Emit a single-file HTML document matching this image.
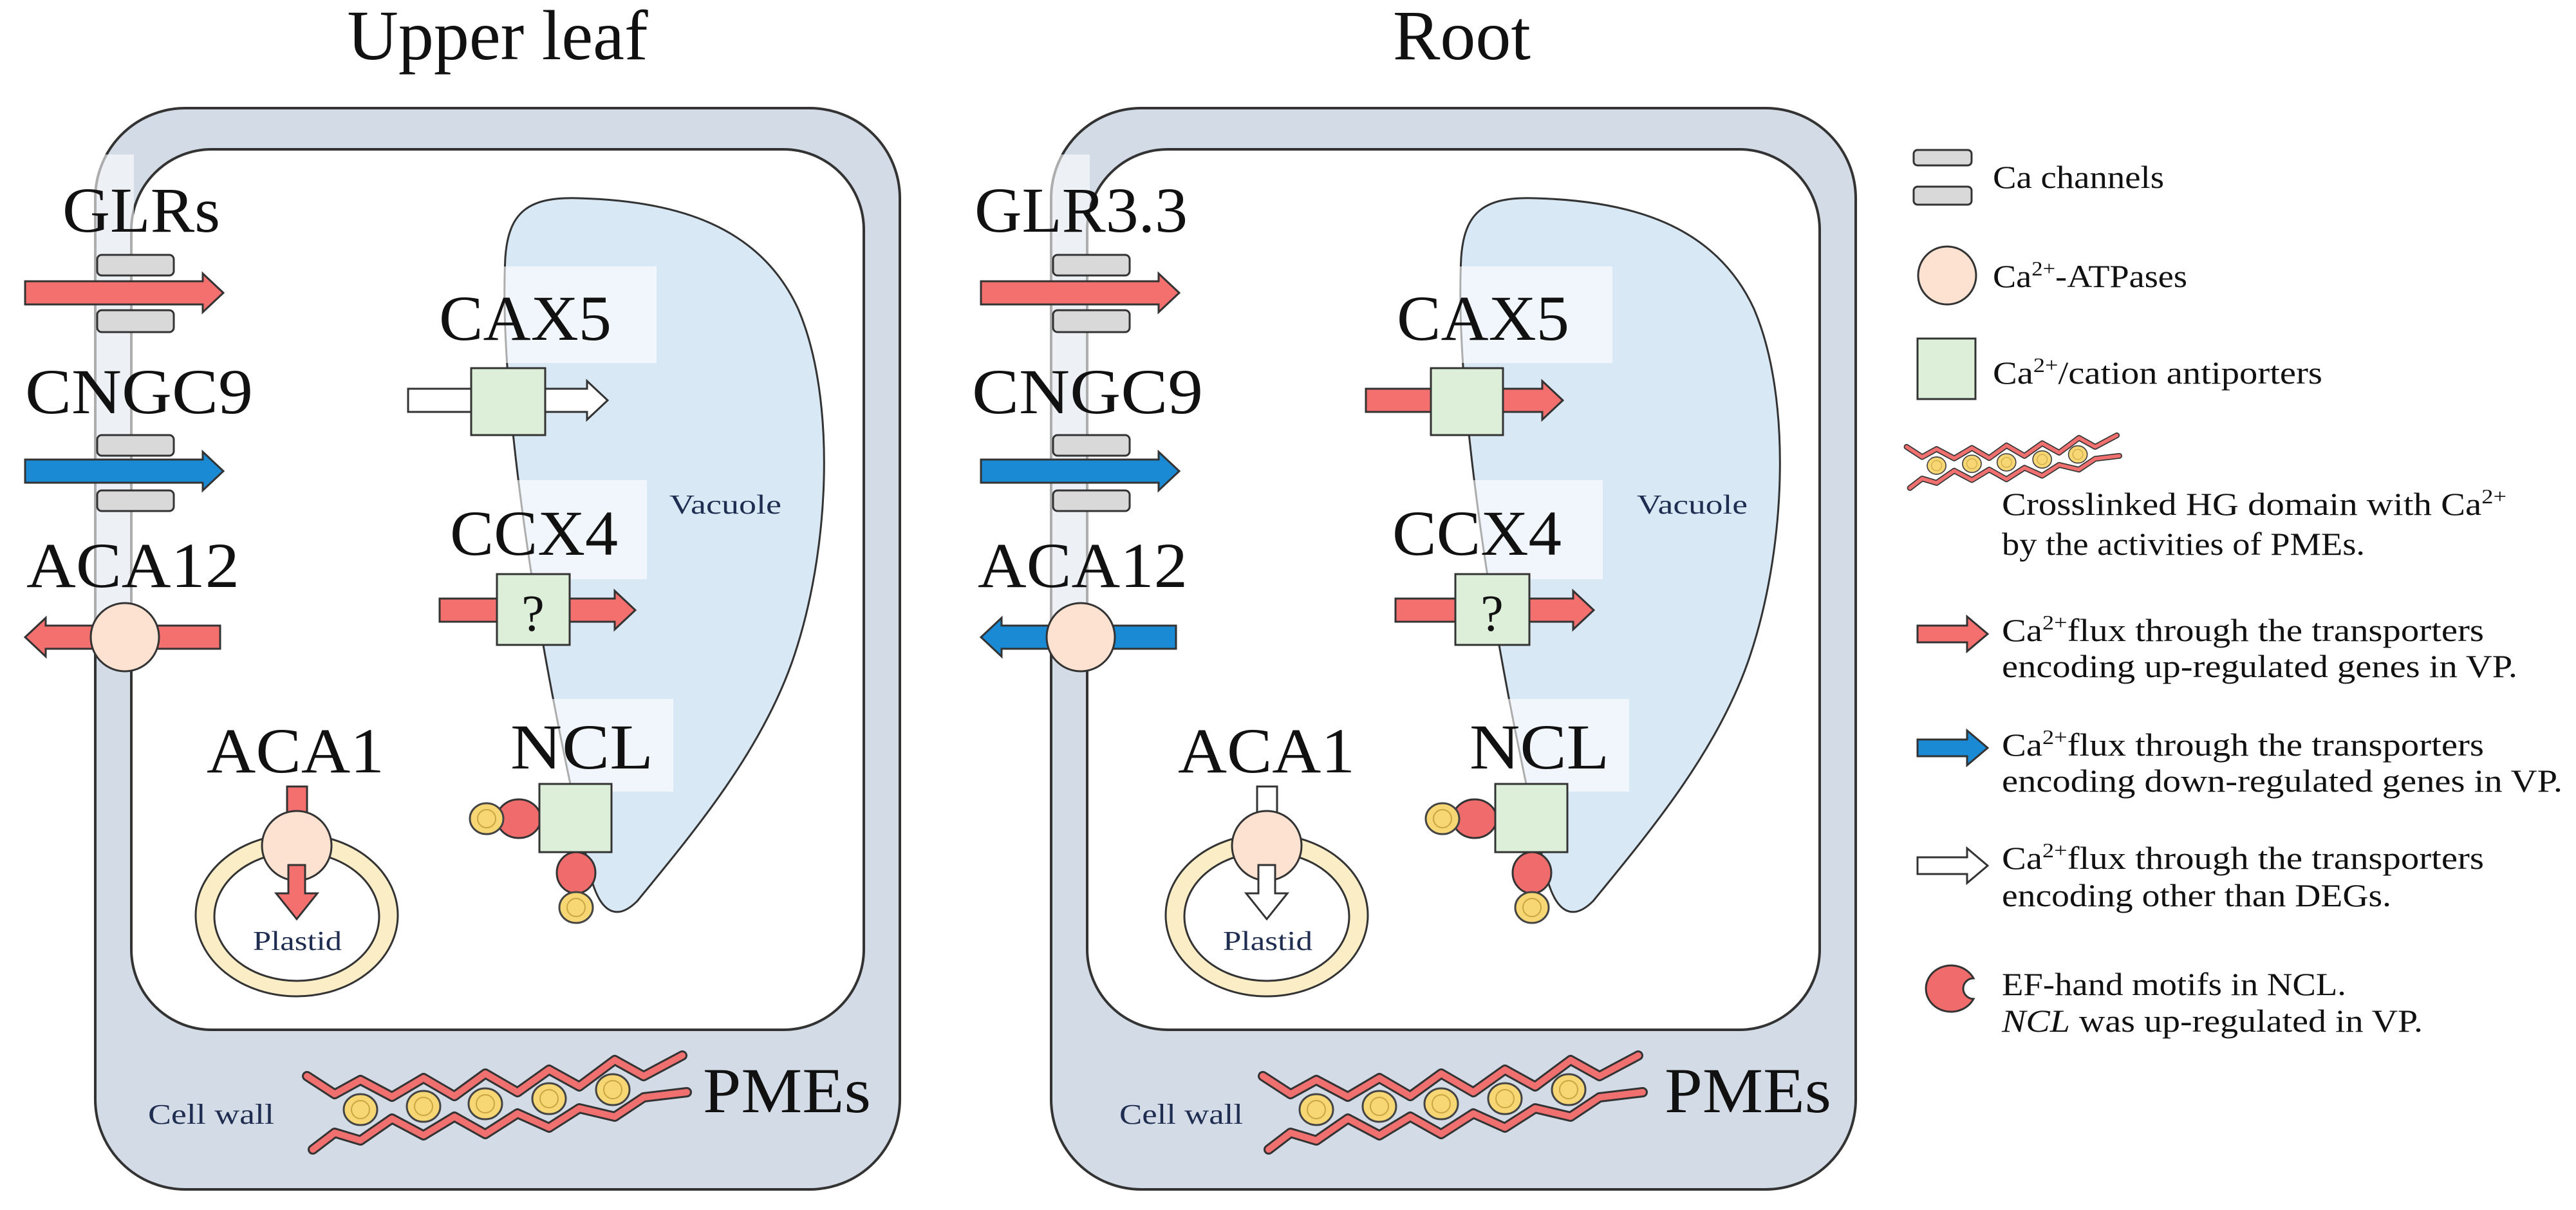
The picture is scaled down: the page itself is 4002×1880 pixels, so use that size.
<!DOCTYPE html>
<html><head><meta charset="utf-8"><style>
html,body{margin:0;padding:0;background:#fff;}
svg{display:block;}
text{font-family:"Liberation Serif",serif;fill:#111;}
.sm{fill:#1f2d50;}
.lg{font-size:50px;}
</style></head><body>
<svg width="4002" height="1880" viewBox="0 0 4002 1880" xmlns="http://www.w3.org/2000/svg">
<defs>
<g id="ca1"><ellipse cx="0" cy="0" rx="26" ry="24" fill="#f6d774" stroke="#444" stroke-width="3"/><circle cx="0" cy="0" r="14" fill="none" stroke="#c9a640" stroke-width="2"/></g>
<g id="poly">
 <g fill="none" stroke-linecap="round" stroke-linejoin="round">
  <polyline points="477,1672 520,1700 560,1678 609,1704 658,1675 706,1703 754,1668 804,1697 853,1662 900,1688 955,1647 1000,1672 1060,1640" stroke="#333" stroke-width="16"/>
  <polyline points="477,1672 520,1700 560,1678 609,1704 658,1675 706,1703 754,1668 804,1697 853,1662 900,1688 955,1647 1000,1672 1060,1640" stroke="#f07070" stroke-width="10"/>
  <polyline points="486,1786 520,1760 560,1772 609,1738 658,1764 706,1735 754,1762 804,1730 853,1752 900,1722 955,1735 1000,1705 1067,1697" stroke="#333" stroke-width="16"/>
  <polyline points="486,1786 520,1760 560,1772 609,1738 658,1764 706,1735 754,1762 804,1730 853,1752 900,1722 955,1735 1000,1705 1067,1697" stroke="#f07070" stroke-width="10"/>
 </g>
 <use href="#ca1" x="560" y="1724"/><use href="#ca1" x="658" y="1719"/><use href="#ca1" x="754" y="1715"/><use href="#ca1" x="853" y="1707"/><use href="#ca1" x="952" y="1693"/>
</g>
<g id="base">
 <rect x="148" y="168" width="1250" height="1680" rx="140" fill="#d3dce6" stroke="#333" stroke-width="4"/>
 <rect x="204" y="232" width="1138" height="1368" rx="125" fill="#fff" stroke="#333" stroke-width="4"/>
 <rect x="144" y="240" width="64" height="760" fill="#fff" opacity="0.6"/>
 <path d="M785,400 C790,330 820,305 900,308 C1050,312 1180,350 1240,480 C1300,620 1290,860 1230,1030 C1180,1170 1080,1290 990,1400 C960,1430 935,1420 920,1370 C880,1200 840,1000 815,820 C790,640 780,500 785,400 Z" fill="#d9e8f5" stroke="#333" stroke-width="3"/>
 <rect x="678" y="414" width="342" height="150" fill="#fff" opacity="0.6"/>
 <rect x="694" y="746" width="311" height="154" fill="#fff" opacity="0.6"/>
 <rect x="785" y="1086" width="261" height="144" fill="#fff" opacity="0.6"/>
 <g fill="#d9d9d9" stroke="#333" stroke-width="3">
  <rect x="151" y="396" width="119" height="32" rx="7"/><rect x="151" y="482" width="119" height="34" rx="7"/>
  <rect x="151" y="676" width="119" height="32" rx="7"/><rect x="151" y="762" width="119" height="32" rx="7"/>
 </g>
 <use href="#poly"/>
</g>
<g id="ncl">
 <ellipse cx="806" cy="1272" rx="34" ry="30" fill="#f06b6b" stroke="#333" stroke-width="3"/>
 <ellipse cx="895" cy="1356" rx="30" ry="32" fill="#f06b6b" stroke="#333" stroke-width="3"/>
 <use href="#ca1" x="756" y="1272"/><use href="#ca1" x="895" y="1410"/>
 <rect x="838" y="1218" width="112" height="106" fill="#ddefd9" stroke="#333" stroke-width="3"/>
</g>
<g id="ring">
 <ellipse cx="461" cy="1422" rx="157" ry="126" fill="#fbedc6" stroke="#333" stroke-width="3"/>
 <ellipse cx="461" cy="1424" rx="128" ry="100" fill="#fff" stroke="#333" stroke-width="3"/>
</g>
</defs>

<text x="773" y="92" font-size="110" text-anchor="middle">Upper leaf</text>
<text x="2271" y="92" font-size="110" text-anchor="middle">Root</text>

<!-- LEFT CELL -->
<use href="#base"/>
<g stroke="#333" stroke-width="3">
 <polygon points="39,437 315,437 315,425 347,455 315,485 315,473 39,473" fill="#f4706f"/>
 <polygon points="39,714 315,714 315,702 347,732 315,762 315,750 39,750" fill="#1a8ad4"/>
 <polygon points="342,972 71,972 71,960 39,990 71,1020 71,1008 342,1008" fill="#f4706f"/>
 <circle cx="194" cy="990" r="53" fill="#fde2d2"/>
 <polygon points="634,604 912,604 912,592 944,622 912,652 912,640 634,640" fill="#fff"/>
 <rect x="732" y="572" width="115" height="104" fill="#ddefd9"/>
 <polygon points="683,930 955,930 955,918 987,948 955,978 955,966 683,966" fill="#f4706f"/>
 <rect x="772" y="892" width="113" height="110" fill="#ddefd9"/>
</g>
<use href="#ncl"/>
<use href="#ring"/>
<g stroke="#333" stroke-width="3">
 <rect x="446" y="1222" width="31" height="50" fill="#f4706f"/>
 <circle cx="461" cy="1314" r="54" fill="#fde2d2"/>
 <polygon points="448,1344 474,1344 474,1388 493,1388 461,1428 429,1388 448,1388" fill="#f4706f"/>
</g>
<text x="97" y="360" font-size="100" textLength="245" lengthAdjust="spacingAndGlyphs">GLRs</text>
<text x="39" y="642" font-size="100" textLength="354" lengthAdjust="spacingAndGlyphs">CNGC9</text>
<text x="41" y="912" font-size="100" textLength="331" lengthAdjust="spacingAndGlyphs">ACA12</text>
<text x="682" y="528" font-size="100" textLength="268" lengthAdjust="spacingAndGlyphs">CAX5</text>
<text x="699" y="862" font-size="100" textLength="261" lengthAdjust="spacingAndGlyphs">CCX4</text>
<text x="828" y="980" font-size="80" text-anchor="middle" fill="#1f2d50">?</text>
<text x="793" y="1194" font-size="100" textLength="222" lengthAdjust="spacingAndGlyphs">NCL</text>
<text x="321" y="1200" font-size="100" textLength="276" lengthAdjust="spacingAndGlyphs">ACA1</text>
<text x="1092" y="1728" font-size="100" textLength="261" lengthAdjust="spacingAndGlyphs">PMEs</text>
<text class="sm" x="230" y="1746" font-size="44" textLength="196" lengthAdjust="spacingAndGlyphs">Cell wall</text>
<text class="sm" x="393" y="1476" font-size="42" textLength="138" lengthAdjust="spacingAndGlyphs">Plastid</text>
<text class="sm" x="1040" y="798" font-size="42" textLength="174" lengthAdjust="spacingAndGlyphs">Vacuole</text>

<!-- RIGHT CELL -->
<g transform="translate(1485,0)">
<use href="#base"/>
<g stroke="#333" stroke-width="3">
 <polygon points="39,437 315,437 315,425 347,455 315,485 315,473 39,473" fill="#f4706f"/>
 <polygon points="39,714 315,714 315,702 347,732 315,762 315,750 39,750" fill="#1a8ad4"/>
 <polygon points="342,972 71,972 71,960 39,990 71,1020 71,1008 342,1008" fill="#1a8ad4"/>
 <circle cx="194" cy="990" r="53" fill="#fde2d2"/>
 <polygon points="637,604 911,604 911,592 943,622 911,652 911,640 637,640" fill="#f4706f"/>
 <rect x="738" y="572" width="112" height="104" fill="#ddefd9"/>
 <polygon points="683,930 959,930 959,918 991,948 959,978 959,966 683,966" fill="#f4706f"/>
 <rect x="776" y="892" width="115" height="110" fill="#ddefd9"/>
</g>
<use href="#ncl"/>
<g transform="translate(22,0)">
<use href="#ring"/>
<g stroke="#333" stroke-width="3">
 <rect x="446" y="1222" width="31" height="50" fill="#fff"/>
 <circle cx="461" cy="1314" r="54" fill="#fde2d2"/>
 <polygon points="448,1344 474,1344 474,1388 493,1388 461,1428 429,1388 448,1388" fill="#fff"/>
</g>
</g>
</g>
<text x="1514" y="360" font-size="100" textLength="331" lengthAdjust="spacingAndGlyphs">GLR3.3</text>
<text x="1510" y="642" font-size="100" textLength="359" lengthAdjust="spacingAndGlyphs">CNGC9</text>
<text x="1519" y="912" font-size="100" textLength="326" lengthAdjust="spacingAndGlyphs">ACA12</text>
<text x="2170" y="528" font-size="100" textLength="268" lengthAdjust="spacingAndGlyphs">CAX5</text>
<text x="2163" y="862" font-size="100" textLength="263" lengthAdjust="spacingAndGlyphs">CCX4</text>
<text x="2318" y="980" font-size="80" text-anchor="middle" fill="#1f2d50">?</text>
<text x="2283" y="1194" font-size="100" textLength="217" lengthAdjust="spacingAndGlyphs">NCL</text>
<text x="1830" y="1200" font-size="100" textLength="275" lengthAdjust="spacingAndGlyphs">ACA1</text>
<text x="2586" y="1728" font-size="100" textLength="259" lengthAdjust="spacingAndGlyphs">PMEs</text>
<text class="sm" x="1739" y="1746" font-size="44" textLength="192" lengthAdjust="spacingAndGlyphs">Cell wall</text>
<text class="sm" x="1900" y="1476" font-size="42" textLength="139" lengthAdjust="spacingAndGlyphs">Plastid</text>
<text class="sm" x="2543" y="798" font-size="42" textLength="172" lengthAdjust="spacingAndGlyphs">Vacuole</text>

<!-- LEGEND -->
<g stroke="#333" stroke-width="3">
 <rect x="2973" y="233" width="90" height="24" rx="6" fill="#d9d9d9"/>
 <rect x="2973" y="290" width="90" height="28" rx="6" fill="#d9d9d9"/>
 <circle cx="3025" cy="428" r="45" fill="#fde2d2"/>
 <rect x="2979" y="526" width="90" height="94" fill="#ddefd9"/>
 <polygon points="2979,972 3056,972 3056,958 3088,985 3056,1012 3056,998 2979,998" fill="#f4706f"/>
 <polygon points="2979,1149 3056,1149 3056,1135 3088,1162 3056,1189 3056,1175 2979,1175" fill="#1a8ad4"/>
 <polygon points="2979,1332 3056,1332 3056,1318 3088,1345 3056,1372 3056,1358 2979,1358" fill="#fff"/>
 <path d="M3066,1520 A39,36 0 1 0 3066,1552 A14,14 0 0 1 3066,1520 Z" fill="#f06b6b"/>
</g>
<use href="#poly" transform="translate(2695,-242) scale(0.56)"/>
<g class="lg">
<text x="3096" y="292" textLength="266" lengthAdjust="spacingAndGlyphs">Ca channels</text>
<text x="3096" y="446" textLength="302" lengthAdjust="spacingAndGlyphs">Ca<tspan font-size="32" dy="-18">2+</tspan><tspan dy="18">-ATPases</tspan></text>
<text x="3096" y="596" textLength="512" lengthAdjust="spacingAndGlyphs">Ca<tspan font-size="32" dy="-18">2+</tspan><tspan dy="18">/cation antiporters</tspan></text>
<text x="3110" y="800" textLength="784" lengthAdjust="spacingAndGlyphs">Crosslinked HG domain with Ca<tspan font-size="32" dy="-18">2+</tspan></text>
<text x="3110" y="862" textLength="564" lengthAdjust="spacingAndGlyphs">by the activities of PMEs.</text>
<text x="3110" y="996" textLength="749" lengthAdjust="spacingAndGlyphs">Ca<tspan font-size="32" dy="-18">2+</tspan><tspan dy="18">flux through the transporters</tspan></text>
<text x="3110" y="1052" textLength="801" lengthAdjust="spacingAndGlyphs">encoding up-regulated genes in VP.</text>
<text x="3110" y="1174" textLength="749" lengthAdjust="spacingAndGlyphs">Ca<tspan font-size="32" dy="-18">2+</tspan><tspan dy="18">flux through the transporters</tspan></text>
<text x="3110" y="1230" textLength="871" lengthAdjust="spacingAndGlyphs">encoding down-regulated genes in VP.</text>
<text x="3110" y="1350" textLength="749" lengthAdjust="spacingAndGlyphs">Ca<tspan font-size="32" dy="-18">2+</tspan><tspan dy="18">flux through the transporters</tspan></text>
<text x="3110" y="1408" textLength="605" lengthAdjust="spacingAndGlyphs">encoding other than DEGs.</text>
<text x="3110" y="1546" textLength="535" lengthAdjust="spacingAndGlyphs">EF-hand motifs in NCL.</text>
<text x="3110" y="1603" textLength="654" lengthAdjust="spacingAndGlyphs"><tspan font-style="italic">NCL</tspan> was up-regulated in VP.</text>
</g>
</svg>
</body></html>
